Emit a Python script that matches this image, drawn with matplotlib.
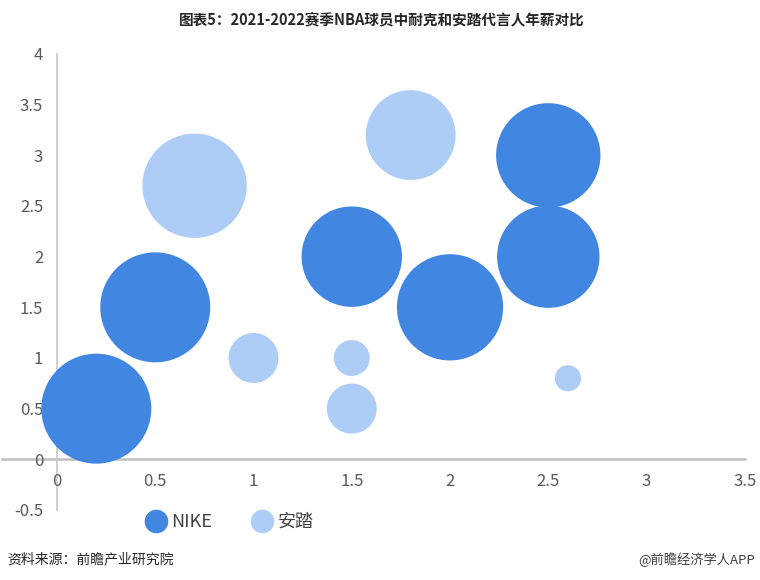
import matplotlib
matplotlib.use('Agg')
import matplotlib.pyplot as plt
from matplotlib.lines import Line2D

plt.rcParams['font.family'] = ['Noto Sans CJK SC', 'DejaVu Sans']

# Data
nike_x = [0.2, 0.5, 1.5, 2.0, 2.5, 2.5]
nike_y = [0.5, 1.5, 2.0, 1.5, 3.0, 2.0]
nike_size = [30, 30, 25, 28, 27, 26]

anta_x = [0.7, 1.8, 1.0, 1.5, 1.5, 2.6]
anta_y = [2.7, 3.2, 1.0, 1.0, 0.5, 0.8]
anta_size = [27, 20, 6.2, 3.2, 6.2, 1.7]

x_ticks = [0, 0.5, 1, 1.5, 2, 2.5, 3, 3.5]
y_ticks = [-0.5, 0, 0.5, 1, 1.5, 2, 2.5, 3, 3.5, 4]

nike_color = '#4186E0'
anta_color = '#AECDF6'
scale = 209  # marker area (pt^2) per size unit

fig = plt.figure(figsize=(7.6, 5.8), dpi=100)
fig.patch.set_facecolor('white')
ax = fig.add_axes([0.075, 0.1207, 0.905, 0.7862])

ax.scatter(nike_x, nike_y, s=[v * scale for v in nike_size], color=nike_color,
           edgecolors='none', zorder=3, clip_on=False)
ax.scatter(anta_x, anta_y, s=[v * scale for v in anta_size], color=anta_color,
           edgecolors='none', zorder=3, clip_on=False)

ax.set_xlim(0, 3.5)
ax.set_ylim(-0.5, 4)
ax.set_xticks(x_ticks)
ax.set_yticks(y_ticks)
ax.set_xticklabels([f'{v:g}' for v in x_ticks])
ax.set_yticklabels([f'{v:g}' for v in y_ticks])

for s in ['top', 'right']:
    ax.spines[s].set_visible(False)
ax.spines['bottom'].set_position(('data', 0))
ax.spines['bottom'].set_visible(False)
ax.spines['left'].set_color('#C8C8C8')
ax.spines['left'].set_linewidth(1.2)
ax.spines['left'].set_zorder(1)
ax.axhline(0, xmin=-0.08, xmax=1, color='#BFBFBF', linewidth=1.8, clip_on=False, zorder=1)

ax.tick_params(axis='both', length=0, labelsize=12, colors='#595959')
ax.tick_params(axis='y', pad=10)
ax.tick_params(axis='x', pad=10)

# Title
fig.text(0.503, 0.967, '图表5：2021-2022赛季NBA球员中耐克和安踏代言人年薪对比',
         ha='center', va='center', fontsize=10.5, fontweight='bold', color='#262626')

# Legend
handles = [
    Line2D([], [], marker='o', linestyle='none', markersize=17,
           markerfacecolor=nike_color, markeredgecolor='none', label='NIKE'),
    Line2D([], [], marker='o', linestyle='none', markersize=17,
           markerfacecolor=anta_color, markeredgecolor='none', label='安踏'),
]
leg = fig.legend(handles=handles, loc='center', bbox_to_anchor=(0.30, 0.10),
                 ncol=2, frameon=False, fontsize=13, handletextpad=0.1,
                 columnspacing=2.0, handlelength=1.5)
for t in leg.get_texts():
    t.set_color('#404040')

# Source notes
fig.text(0.01, 0.035, '资料来源：前瞻产业研究院', ha='left', va='center',
         fontsize=10, color='#262626')
fig.text(0.993, 0.035, '@前瞻经济学人APP', ha='right', va='center',
         fontsize=9.5, color='#404040')

fig.savefig('out.png', dpi=100, facecolor=fig.get_facecolor())
